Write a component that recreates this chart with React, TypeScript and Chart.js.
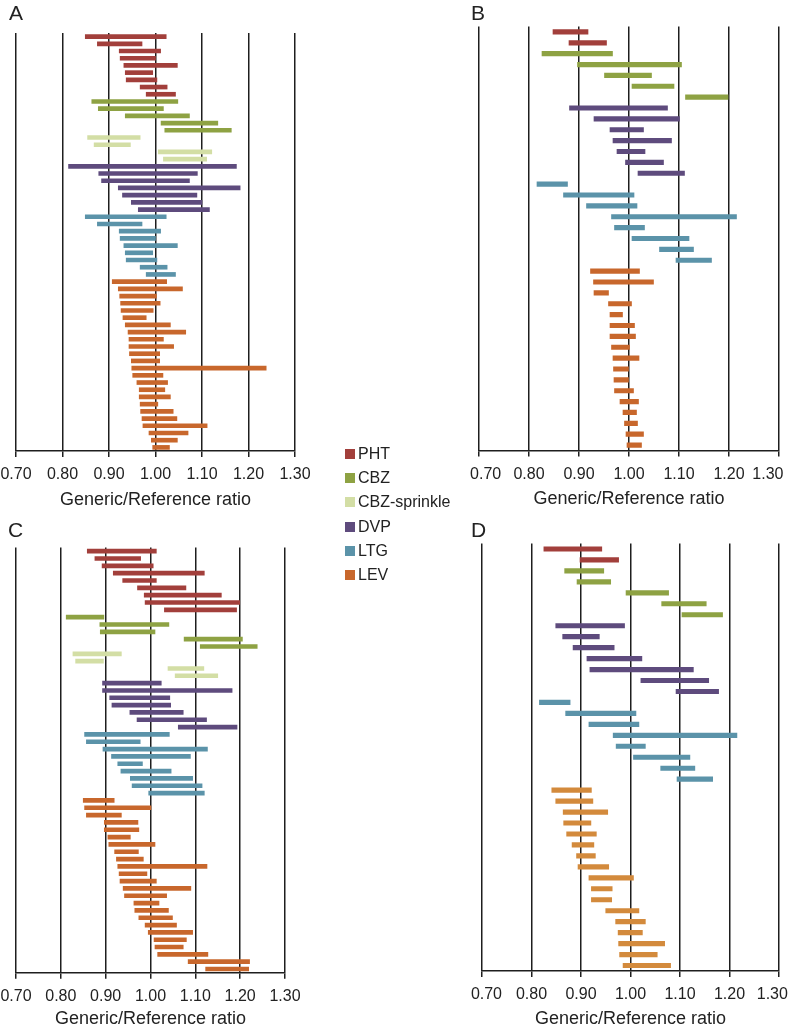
import React, { useEffect, useRef } from 'react';
import { Chart, registerables } from 'chart.js';

Chart.register(...registerables);
Chart.defaults.font.family = '"Liberation Sans", Arial, sans-serif';

type Pair = [number, number];

const GROUPS = ['PHT', 'CBZ', 'CBZ-sprinkle', 'DVP', 'LTG', 'LEV'];
const GROUP_COLORS: Record<string, string> = {
  PHT: '#A23F3B',
  CBZ: '#8EA243',
  'CBZ-sprinkle': '#D3DEA5',
  DVP: '#5E4B7D',
  LTG: '#5B93A9',
  LEV: '#C8672C',
};
const LEV_COLOR_D = '#D38A3C';

const X_MIN = 0.7;
const X_MAX = 1.3;
const X_STEP = 0.1;
const AXIS_TITLE = 'Generic/Reference ratio';

// ---------- Panel A ----------
const A_PHT: Pair[] = [[0.849, 1.023], [0.875, 0.971], [0.922, 1.011], [0.924, 1.0], [0.932, 1.047], [0.935, 0.994], [0.937, 1.003], [0.967, 1.025], [0.98, 1.043]];
const A_CBZ: Pair[] = [[0.863, 1.048], [0.877, 1.017], [0.935, 1.073], [1.012, 1.134], [1.02, 1.163]];
const A_CBZS: Pair[] = [[0.854, 0.967], [0.868, 0.946], [1.006, 1.121], [1.017, 1.11]];
const A_DVP: Pair[] = [[0.813, 1.174], [0.878, 1.09], [0.884, 1.073], [0.92, 1.182], [0.929, 1.089], [0.948, 1.1], [0.963, 1.116]];
const A_LTG: Pair[] = [[0.849, 1.023], [0.875, 0.971], [0.922, 1.011], [0.924, 1.0], [0.932, 1.047], [0.935, 0.994], [0.937, 1.003], [0.967, 1.025], [0.98, 1.043]];
const A_LEV: Pair[] = [[0.907, 1.024], [0.92, 1.058], [0.923, 1.002], [0.925, 1.01], [0.926, 0.995], [0.93, 0.98], [0.935, 1.032], [0.941, 1.065], [0.943, 1.017], [0.943, 1.039], [0.944, 1.009], [0.948, 1.009], [0.949, 1.238], [0.951, 1.016], [0.96, 1.026], [0.965, 1.02], [0.965, 1.032], [0.967, 1.005], [0.968, 1.038], [0.971, 1.046], [0.973, 1.111], [0.986, 1.07], [0.991, 1.047], [0.994, 1.03]];

// ---------- Panel B ----------
const B_PHT: Pair[] = [[0.848, 0.918], [0.88, 0.955]];
const B_CBZ: Pair[] = [[0.826, 0.967], [0.897, 1.105], [0.951, 1.045], [1.006, 1.09], [1.113, 1.198]];
const B_DVP: Pair[] = [[0.881, 1.077], [0.93, 1.101], [0.962, 1.029], [0.968, 1.085], [0.976, 1.032], [0.993, 1.069], [1.018, 1.111]];
const B_LTG: Pair[] = [[0.816, 0.877], [0.869, 1.01], [0.915, 1.016], [0.965, 1.215], [0.971, 1.031], [1.006, 1.12], [1.061, 1.129], [1.094, 1.165]];
const B_LEV: Pair[] = [[0.923, 1.021], [0.929, 1.049], [0.93, 0.959], [0.959, 1.005], [0.962, 0.987], [0.962, 1.011], [0.962, 1.013], [0.965, 1.001], [0.968, 1.02], [0.969, 0.999], [0.97, 0.999], [0.971, 1.009], [0.982, 1.019], [0.988, 1.015], [0.991, 1.017], [0.994, 1.029], [0.996, 1.025]];

// ---------- Panel C ----------
const C_PHT: Pair[] = [[0.859, 1.013], [0.876, 0.978], [0.892, 1.006], [0.917, 1.12], [0.938, 1.013], [0.971, 1.079], [0.986, 1.158], [0.988, 1.199], [1.031, 1.192]];
const C_CBZ: Pair[] = [[0.812, 0.896], [0.887, 1.041], [0.888, 1.01], [1.075, 1.205], [1.111, 1.238]];
const C_CBZS: Pair[] = [[0.827, 0.935], [0.833, 0.895], [1.039, 1.119], [1.055, 1.15]];
const C_DVP: Pair[] = [[0.893, 1.024], [0.893, 1.182], [0.909, 1.043], [0.914, 1.045], [0.954, 1.073], [0.97, 1.125], [1.062, 1.193]];
const C_LTG: Pair[] = [[0.853, 1.042], [0.857, 0.977], [0.894, 1.127], [0.913, 1.089], [0.927, 0.982], [0.934, 1.046], [0.955, 1.094], [0.959, 1.115], [0.996, 1.12]];
const C_LEV: Pair[] = [[0.85, 0.919], [0.853, 1.001], [0.857, 0.935], [0.897, 0.972], [0.897, 0.974], [0.905, 0.955], [0.907, 1.01], [0.92, 0.973], [0.924, 0.984], [0.927, 1.126], [0.93, 0.992], [0.932, 1.013], [0.939, 1.09], [0.942, 1.036], [0.963, 1.019], [0.965, 1.04], [0.974, 1.049], [0.988, 1.058], [0.995, 1.094], [1.008, 1.08], [1.01, 1.073], [1.016, 1.128], [1.084, 1.221], [1.123, 1.219]];

// ---------- Panel D ----------
const D_PHT: Pair[] = [[0.825, 0.942], [0.898, 0.976]];
const D_CBZ: Pair[] = [[0.867, 0.946], [0.892, 0.96], [0.991, 1.077], [1.063, 1.153], [1.104, 1.186]];
const D_DVP: Pair[] = [[0.849, 0.988], [0.863, 0.937], [0.884, 0.967], [0.912, 1.023], [0.918, 1.127], [1.021, 1.158], [1.092, 1.178]];
const D_LTG: Pair[] = [[0.816, 0.878], [0.869, 1.011], [0.916, 1.017], [0.965, 1.215], [0.971, 1.03], [1.006, 1.12], [1.061, 1.13], [1.094, 1.166]];
const D_LEV: Pair[] = [[0.841, 0.921], [0.849, 0.924], [0.864, 0.954], [0.865, 0.92], [0.871, 0.931], [0.882, 0.926], [0.891, 0.929], [0.894, 0.956], [0.916, 1.006], [0.921, 0.963], [0.921, 0.962], [0.95, 1.017], [0.97, 1.03], [0.975, 1.024], [0.976, 1.069], [0.978, 1.054], [0.985, 1.081]];

type PanelCfg = {
  letter: string;
  series: [string, Pair[]][];
  levColor: string;
  box: { left: number; top: number; width: number; height: number };
  padding: { left: number; right: number; top: number; bottom: number };
  barThickness: number;
  titlePad: number;
  lead: number;
  trail: number;
  letterPos: { left: number; top: number };
};

const PANELS: PanelCfg[] = [
  {
    letter: 'A',
    series: [['PHT', A_PHT], ['CBZ', A_CBZ], ['CBZ-sprinkle', A_CBZS], ['DVP', A_DVP], ['LTG', A_LTG], ['LEV', A_LEV]],
    levColor: GROUP_COLORS.LEV,
    box: { left: -20, top: 0, width: 350, height: 520 },
    padding: { left: 36, right: 35, top: 33, bottom: 7 },
    barThickness: 4,
    titlePad: 2,
    lead: 0,
    trail: 0,
    letterPos: { left: 9, top: 2 },
  },
  {
    letter: 'B',
    series: [['PHT', B_PHT], ['CBZ', B_CBZ], ['DVP', B_DVP], ['LTG', B_LTG], ['LEV', B_LEV]],
    levColor: GROUP_COLORS.LEV,
    box: { left: 440, top: 0, width: 400, height: 520 },
    padding: { left: 39, right: 61, top: 26.5, bottom: 7.5 },
    barThickness: 4.5,
    titlePad: 3,
    lead: 3,
    trail: 5,
    letterPos: { left: 471, top: 2 },
  },
  {
    letter: 'C',
    series: [['PHT', C_PHT], ['CBZ', C_CBZ], ['CBZ-sprinkle', C_CBZS], ['DVP', C_DVP], ['LTG', C_LTG], ['LEV', C_LEV]],
    levColor: GROUP_COLORS.LEV,
    box: { left: -20, top: 500, width: 350, height: 540 },
    padding: { left: 36, right: 45, top: 47.5, bottom: 5.3 },
    barThickness: 4,
    titlePad: 5,
    lead: 0,
    trail: 0,
    letterPos: { left: 8, top: 519 },
  },
  {
    letter: 'D',
    series: [['PHT', D_PHT], ['CBZ', D_CBZ], ['DVP', D_DVP], ['LTG', D_LTG], ['LEV', D_LEV]],
    levColor: LEV_COLOR_D,
    box: { left: 440, top: 500, width: 400, height: 540 },
    padding: { left: 42, right: 61, top: 43.5, bottom: 7 },
    barThickness: 4.5,
    titlePad: 3,
    lead: 2,
    trail: 3,
    letterPos: { left: 471, top: 519 },
  },
];

const SCALE_HEIGHT = 62;

function Panel({ cfg }: { cfg: PanelCfg }) {
  const ref = useRef<HTMLCanvasElement | null>(null);
  useEffect(() => {
    if (!ref.current) return;
    const labels: string[] = [];
    const data: Pair[] = [];
    const colors: string[] = [];
    cfg.series.forEach(([g, arr]) => {
      arr.forEach((p, i) => {
        labels.push(`${g} ${i + 1}`);
        data.push(p);
        colors.push(g === 'LEV' ? cfg.levColor : GROUP_COLORS[g]);
      });
    });
    const chart = new Chart(ref.current, {
      type: 'bar',
      data: {
        labels,
        datasets: [
          {
            data: data as any,
            backgroundColor: colors,
            borderWidth: 0,
            barThickness: cfg.barThickness,
          },
        ],
      },
      options: {
        indexAxis: 'y',
        responsive: false,
        animation: false,
        devicePixelRatio: 1,
        layout: { padding: cfg.padding },
        plugins: { legend: { display: false }, tooltip: { enabled: false } },
        scales: {
          x: {
            type: 'linear',
            position: 'bottom',
            min: X_MIN,
            max: X_MAX,
            ticks: {
              stepSize: X_STEP,
              autoSkip: false,
              maxRotation: 0,
              minRotation: 0,
              color: '#222',
              font: { size: 16 },
              padding: 8,
              callback: (v: any, i: number, ticks: any[]) => {
                let s = Number(v).toFixed(2);
                if (i === 0) s = ' '.repeat(cfg.lead) + s;
                if (i === ticks.length - 1) s = s + ' '.repeat(cfg.trail);
                return s;
              },
            },
            grid: { color: '#1e1e1e', lineWidth: 1.5, drawTicks: true, tickLength: 6, tickColor: '#1e1e1e' },
            border: { display: true, color: '#1e1e1e', width: 1.5 },
            title: {
              display: true,
              text: AXIS_TITLE,
              color: '#222',
              font: { size: 18 },
              padding: { top: 0, bottom: cfg.titlePad },
            },
            afterFit: (scale: any) => {
              scale.height = SCALE_HEIGHT;
            },
          },
          y: { type: 'category', display: false, offset: true, grid: { display: false } },
        },
      } as any,
    });
    return () => chart.destroy();
  }, [cfg]);
  return (
    <>
      <canvas
        ref={ref}
        width={cfg.box.width}
        height={cfg.box.height}
        style={{
          position: 'absolute',
          left: cfg.box.left,
          top: cfg.box.top,
          width: cfg.box.width,
          height: cfg.box.height,
        }}
      />
      <div
        style={{
          position: 'absolute',
          left: cfg.letterPos.left,
          top: cfg.letterPos.top,
          fontSize: 21,
          lineHeight: '21px',
          color: '#222',
          fontFamily: '"Liberation Sans", Arial, sans-serif',
        }}
      >
        {cfg.letter}
      </div>
    </>
  );
}

function Legend() {
  return (
    <div style={{ position: 'absolute', left: 345, top: 442 }}>
      {GROUPS.map((g) => (
        <div
          key={g}
          style={{
            display: 'flex',
            alignItems: 'center',
            height: 24.2,
            fontSize: 16,
            color: '#222',
            fontFamily: '"Liberation Sans", Arial, sans-serif',
            whiteSpace: 'nowrap',
          }}
        >
          <span style={{ display: 'inline-block', width: 10, height: 10, background: GROUP_COLORS[g], marginRight: 3 }} />
          <span>{g}</span>
        </div>
      ))}
    </div>
  );
}

export default function App() {
  return (
    <div
      style={{
        position: 'absolute',
        left: 0,
        top: 0,
        width: 790,
        height: 1026,
        overflow: 'hidden',
        background: '#fff',
      }}
    >
      {PANELS.map((p) => (
        <Panel key={p.letter} cfg={p} />
      ))}
      <Legend />
    </div>
  );
}
